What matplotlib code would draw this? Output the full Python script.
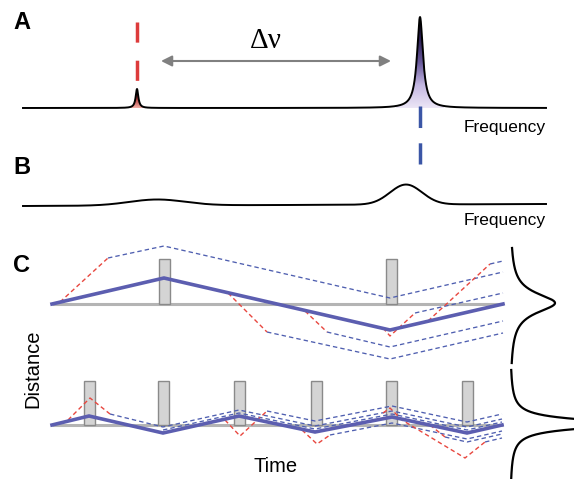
import numpy as np
import matplotlib
matplotlib.use('Agg')
import matplotlib.pyplot as plt
from matplotlib.patches import Polygon, Rectangle
from matplotlib.colors import LinearSegmentedColormap

plt.rcParams['lines.scale_dashes'] = False
plt.rcParams['font.family'] = ['Liberation Sans', 'DejaVu Sans']

# ---------------- data ----------------
# Panel A: spectrum (Lorentzian lines)
freq_range = [23, 546]
A_baseline = 108
A_peak_pos = [137, 420]
A_peak_height = [19, 91]
A_peak_width = [1.6, 3.6]
A_red_marker_x = 137
A_red_marker_span = [22, 81]
A_blue_marker_x = 420
A_blue_marker_span = [106, 164]
arrow_span = [161, 391]
arrow_y = 61

# Panel B: broadened spectrum (Gaussian bumps)
B_baseline = [206, 204]
B_bump_pos = [157, 406]
B_bump_height = [6, 20]
B_bump_sigma = [28, 16]

# Panel C (upper): sparse pulses
Cu_baseline_y = 304
C_x_range = [52, 503]
Cu_pulse_x = [164, 391]
Cu_pulse_top = 259
Cu_mean_x = [52, 164, 390, 503]
Cu_mean_y = [304, 278, 330, 304]
Cu_dashed = [
    ([108, 164, 390, 503], [258, 246, 298, 272]),
    ([267, 390, 503], [332, 359, 333]),
    ([327, 390, 503], [332, 347, 321]),
    ([415, 503], [313, 293]),
    ([490, 503], [264, 261]),
]
Cu_red = [
    ([60, 108], [302, 258]),
    ([228, 267], [293, 332]),
    ([305, 327], [311, 332]),
    ([383, 390, 415], [328, 336, 313]),
    ([428, 490], [321, 264]),
]
Cu_dist_y = [248, 363]
Cu_dist_center, Cu_dist_amp, Cu_dist_width = 303, 45, 12

# Panel C (lower): dense pulses
Cl_baseline_y = 425
Cl_pulse_x = [89, 163, 239, 316, 391, 467]
Cl_pulse_top = 381
Cl_mean_x = [52, 89, 163, 239, 315, 392, 467, 502]
Cl_mean_y = [425, 416, 433, 416, 432, 417, 433, 425]
Cl_dashed = [
    ([110, 163, 239, 315, 392, 467, 502], [414, 427, 410, 426, 411, 427, 419]),
    ([163, 239, 315, 392, 467, 502], [430, 413, 429, 414, 430, 422]),
    ([267, 315, 392, 467, 502], [411, 421, 406, 422, 414]),
    ([330, 392, 467, 502], [435, 423, 439, 431]),
    ([445, 467, 502], [437, 442, 434]),
    ([485, 502], [442, 438]),
]
Cl_red = [
    ([68, 90, 110], [420, 398, 414]),
    ([225, 240, 267], [420, 436, 411]),
    ([302, 317, 330], [430, 444, 435]),
    ([383, 390, 402, 465, 485], [413, 408, 420, 458, 442]),
    ([430, 445], [425, 437]),
]
Cl_dist_y = [370, 479]
Cl_dist_center, Cl_dist_amp, Cl_dist_width = 424, 120, 5.5
dist_x0 = 510

# ---------------- figure ----------------
W, H = 574, 479
fig = plt.figure(figsize=(W / 100, H / 100), dpi=100)
ax = fig.add_axes([0, 0, 1, 1])
ax.axis('off')

def lor(x, c, w):
    return 1.0 / (1.0 + ((x - c) / w) ** 2)

def gau(x, c, s):
    return np.exp(-0.5 * ((x - c) / s) ** 2)

# Panel A
xs = np.linspace(freq_range[0], freq_range[1], 4000)
yA = np.full_like(xs, A_baseline, dtype=float)
for c, h, w in zip(A_peak_pos, A_peak_height, A_peak_width):
    yA -= h * lor(xs, c, w)

# gradient fills under peaks
cm_blue = LinearSegmentedColormap.from_list('b', ['#120a2a', '#2e2258', '#6a5a9c', '#c4b8e2', '#ece6f6'])
cm_red = LinearSegmentedColormap.from_list('r', ['#2a1010', '#b03838', '#f4b0a8'])
for c, h, w, cm, half in zip(A_peak_pos, A_peak_height, A_peak_width, [cm_red, cm_blue], [6, 24]):
    m = (xs > c - half) & (xs < c + half)
    verts = np.column_stack([xs[m], yA[m]])
    verts = np.vstack([verts, [[xs[m][-1], A_baseline], [xs[m][0], A_baseline]]])
    poly = Polygon(verts, closed=True, facecolor='none', edgecolor='none')
    ax.add_patch(poly)
    grad = np.linspace(0, 1, 256).reshape(-1, 1)
    im = ax.imshow(grad, cmap=cm, aspect='auto', origin='upper',
                   extent=(c - half, c + half, A_baseline, A_baseline - h), zorder=1)
    im.set_clip_path(poly)

ax.plot(xs, yA, color='black', lw=1.4, zorder=3)

ax.plot([A_red_marker_x] * 2, A_red_marker_span, color='#dd3b3b', lw=2.5,
        ls=(0, (14.5, 13)), dash_capstyle='butt', zorder=2)
ax.plot([A_blue_marker_x] * 2, A_blue_marker_span, color='#3b56a6', lw=2.5,
        ls=(0, (15.5, 11)), dash_capstyle='butt', zorder=4)

ax.annotate('', xy=(arrow_span[0], arrow_y), xytext=(arrow_span[1], arrow_y),
            arrowprops=dict(arrowstyle='<|-|>', color='#808080', lw=1.5,
                            mutation_scale=16, shrinkA=0, shrinkB=0))
ax.text(266, 41, 'Δν', fontsize=21, family=['Liberation Serif', 'DejaVu Serif'],
        ha='center', va='center')
ax.text(13, 22, 'A', fontsize=17, fontweight='bold', ha='left', va='center')
ax.text(546, 127, 'Frequency', fontsize=12.5, ha='right', va='center')

# Panel B
yB = np.interp(xs, freq_range, B_baseline).astype(float)
for c, h, s in zip(B_bump_pos, B_bump_height, B_bump_sigma):
    yB -= h * gau(xs, c, s)
ax.plot(xs, yB, color='black', lw=1.4)
ax.text(13, 167, 'B', fontsize=17, fontweight='bold', ha='left', va='center')
ax.text(546, 220, 'Frequency', fontsize=12.5, ha='right', va='center')

# Panel C
ax.text(13, 265, 'C', fontsize=17, fontweight='bold', ha='left', va='center')
ax.text(33, 369, 'Distance', fontsize=14.5, rotation=90, ha='center', va='center')
ax.text(276, 466, 'Time', fontsize=14.5, ha='center', va='center')

dash_blue = dict(color='#4f5fb0', lw=0.95, ls=(0, (3.2, 2.2)))
dash_red = dict(color='#e8473f', lw=1.0, ls=(0, (3.2, 2.2)))
bar_w = 11

for base, pulses, top, mx, my, dashed, reds in [
        (Cu_baseline_y, Cu_pulse_x, Cu_pulse_top, Cu_mean_x, Cu_mean_y, Cu_dashed, Cu_red),
        (Cl_baseline_y, Cl_pulse_x, Cl_pulse_top, Cl_mean_x, Cl_mean_y, Cl_dashed, Cl_red)]:
    ax.plot(C_x_range, [base, base], color='#b4b4b4', lw=2.2, zorder=1, solid_capstyle='butt')
    for px in pulses:
        ax.add_patch(Rectangle((px - bar_w / 2, top), bar_w, base - top,
                               facecolor='#d4d4d4', edgecolor='#8a8a8a', lw=1.0, zorder=2))
    for xx, yy in dashed:
        ax.plot(xx, yy, zorder=3, **dash_blue)
    for xx, yy in reds:
        ax.plot(xx, yy, zorder=3, **dash_red)
    ax.plot(mx, my, color='#5c5eb0', lw=2.6, zorder=4, solid_joinstyle='miter')

# Distributions on the right
yu = np.linspace(Cu_dist_y[0], Cu_dist_y[1], 600)
ax.plot(dist_x0 + Cu_dist_amp * lor(yu, Cu_dist_center, Cu_dist_width), yu, color='black', lw=1.6)
yl = np.linspace(Cl_dist_y[0], Cl_dist_y[1], 600)
ax.plot(dist_x0 + Cl_dist_amp * lor(yl, Cl_dist_center, Cl_dist_width), yl, color='black', lw=1.6)

ax.set_xlim(0, W)
ax.set_ylim(H, 0)
fig.savefig('out.png', dpi=100, facecolor='white')
